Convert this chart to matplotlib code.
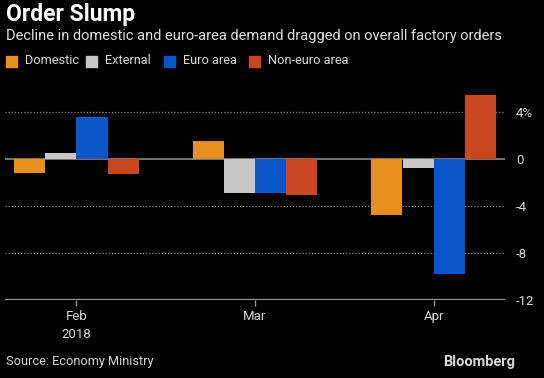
import matplotlib
matplotlib.use("Agg")
import matplotlib.pyplot as plt
import numpy as np
from matplotlib.patches import Rectangle

plt.rcParams["font.family"] = ["Roboto", "DejaVu Sans"]

months = ["Feb\n2018", "Mar", "Apr"]
series_names = ["Domestic", "External", "Euro area", "Non-euro area"]
domestic = [-1.2, 1.6, -4.75]
external = [0.5, -2.85, -0.75]
euro_area = [3.6, -2.85, -9.8]
non_euro = [-1.25, -3.0, 5.5]
colors = ["#e8901f", "#c8c8c8", "#0a55c8", "#c8471e"]
yticks = [4, 0, -4, -8, -12]
ytick_labels = ["4%", "0", "-4", "-8", "-12"]

W, H = 544, 378
fig = plt.figure(figsize=(W / 100, H / 100), dpi=100, facecolor="black")
ax = fig.add_axes([5 / W, 78 / H, 500 / W, (300 - 89) / H])
ax.set_facecolor("black")

x = np.arange(len(months))
bw = 0.174
data = [domestic, external, euro_area, non_euro]
for i, (vals, c) in enumerate(zip(data, colors)):
    ax.bar(x + (i - 1.5) * bw, vals, width=bw, color=c, zorder=3)

ax.set_xlim(-0.4, 2.4)
ax.set_ylim(-12, 6)
for y in [4, -4, -8]:
    ax.axhline(y, color="#8a8a8a", lw=0.9, ls=(0, (1, 1.5)), zorder=1)
ax.axhline(0, color="#8a8a8a", lw=1.2, zorder=2)
ax.axhline(-12, color="#9a9a9a", lw=1.6, zorder=2)

for s in ax.spines.values():
    s.set_visible(False)
ax.yaxis.tick_right()
ax.set_yticks(yticks)
ax.set_yticklabels(ytick_labels, color="#d8d8d8", fontsize=9.5)
ax.tick_params(axis="y", length=0, pad=8)
ax.set_xticks(x)
ax.set_xticklabels(months, color="#d8d8d8", fontsize=9.5, linespacing=1.55)
ax.tick_params(axis="x", length=4, color="#9a9a9a", width=1, pad=3)

fig.text(6 / W, 1 - 15 / H, "Order Slump", color="white", fontsize=16.5,
         fontweight="bold", va="center", ha="left")
fig.text(6 / W, 1 - 36 / H,
         "Decline in domestic and euro-area demand dragged on overall factory orders",
         color="#e0e0e0", fontsize=10.5, va="center", ha="left")

legend_x = [6, 86, 164, 249]
for lx, name, c in zip(legend_x, series_names, colors):
    fig.patches.append(Rectangle((lx / W, 1 - 67 / H), 11 / W, 11 / H,
                                 transform=fig.transFigure, color=c))
    fig.text((lx + 19) / W, 1 - 61 / H, name, color="#d8d8d8", fontsize=9.2,
             va="center", ha="left")

fig.text(6 / W, 1 - 362 / H, "Source: Economy Ministry", color="#d8d8d8",
         fontsize=9.2, va="center", ha="left")
fig.text(515 / W, 1 - 362 / H, "Bloomberg", color="#d8d8d8", fontsize=10.5,
         fontweight="bold", va="center", ha="right")

fig.savefig("out.png", dpi=100, facecolor="black")
